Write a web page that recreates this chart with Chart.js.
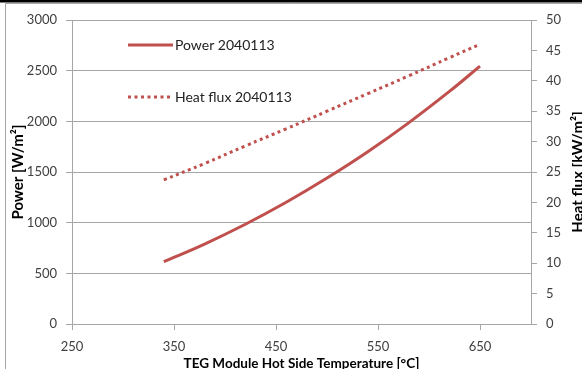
<!DOCTYPE html>
<html>
<head>
<meta charset="utf-8">
<script src="https://cdn.jsdelivr.net/npm/chart.js@4.4.1/dist/chart.umd.min.js"></script>
<style>
  html, body { margin: 0; padding: 0; background: #fff; }
  #wrap { width: 582px; height: 369px; position: relative; }
</style>
</head>
<body>
<div id="wrap"><canvas id="myChart" width="582" height="369"></canvas></div>
<script>
// values
var temps    = [340, 380, 420, 460, 500, 540, 580, 620, 650];
var power    = [615, 789, 984, 1201, 1440, 1700, 1985, 2295, 2545];
var heatFlux = [23.7, 26.4, 29.3, 32.1, 35.0, 37.9, 40.8, 43.8, 46.0];
var xTicks   = [250, 350, 450, 550, 650];
var seriesNames = ['Power 2040113', 'Heat flux 2040113'];

var red = '#c0504d';
var gridGrey = '#a6a6a6';
var textCol = '#404040';

function pts(xs, ys) {
    var out = [];
    for (var i = 0; i < xs.length; i++) out.push({x: xs[i], y: ys[i]});
    return out;
}

function plain(v) { return String(v); }

// page frame, legend inside the plot, right-hand axis title (reads bottom to top)
var extras = {
    id: 'extras',
    beforeDraw: function(chart) {
        var c = chart.ctx;
        c.save();
        c.fillStyle = '#fff';
        c.fillRect(0, 0, chart.width, chart.height);
        c.fillStyle = '#000';
        c.fillRect(0, 0, chart.width, 2.5);
        c.strokeStyle = gridGrey;
        c.lineWidth = 1;
        c.beginPath();
        c.moveTo(5.5, 2.5); c.lineTo(5.5, chart.height);
        c.moveTo(5.5, 3.5); c.lineTo(chart.width, 3.5);
        c.stroke();
        c.restore();
    },
    afterDraw: function(chart) {
        var c = chart.ctx, a = chart.chartArea;
        c.save();
        var rows = [a.top + 25, a.top + 77];
        chart.data.datasets.forEach(function(ds, i) {
            var y = rows[i];
            c.strokeStyle = ds.borderColor;
            c.lineWidth = ds.borderWidth;
            c.setLineDash(ds.borderDash || []);
            c.beginPath();
            c.moveTo(a.left + 56, y);
            c.lineTo(a.left + 101, y);
            c.stroke();
            c.setLineDash([]);
            c.fillStyle = '#222';
            c.font = '14px Lato';
            c.textBaseline = 'middle';
            c.fillText(ds.label, a.left + 103, y);
        });
        // right axis title
        c.translate(578, (a.top + a.bottom) / 2);
        c.rotate(-Math.PI / 2);
        c.font = 'bold 15px Lato';
        c.fillStyle = '#000';
        c.textAlign = 'center';
        c.textBaseline = 'middle';
        c.fillText('Heat flux [kW/m\u00b2]', 0, 0);
        c.restore();
    }
};

var ctx = document.getElementById('myChart');

var myChart = new Chart(ctx, {
    type: 'line',
    data: {
        datasets: [
        {
            label: seriesNames[0],
            data: pts(temps, power),
            yAxisID: 'y',
            borderColor: red,
            borderWidth: 3,
            pointRadius: 0,
            tension: 0.4,
            fill: false
        },
        {
            label: seriesNames[1],
            data: pts(temps, heatFlux),
            yAxisID: 'y2',
            borderColor: red,
            borderWidth: 3,
            borderDash: [3, 3.5],
            pointRadius: 0,
            tension: 0.4,
            fill: false
        }
        ]
    },
    plugins: [extras],
    options: {
        responsive: false,
        animation: false,
        events: [],
        layout: { padding: { top: 20, left: 0, right: 0, bottom: 0 } },
        plugins: { legend: { display: false }, tooltip: { enabled: false } },
        scales: {
            x: {
                type: 'linear',
                min: 250,
                max: 700,
                afterBuildTicks: function(scale) {
                    scale.ticks = xTicks.map(function(v) { return {value: v}; });
                },
                afterFit: function(scale) { scale.height = 45; },
                grid: { drawOnChartArea: false, drawTicks: true, tickLength: 6, color: gridGrey },
                border: { color: gridGrey },
                ticks: { color: textCol, font: { family: 'Lato', size: 13 }, padding: 9, maxRotation: 0, callback: plain },
                title: {
                    display: true,
                    text: 'TEG Module Hot Side Temperature [\u00b0C]',
                    color: '#000',
                    font: { family: 'Lato', size: 13.5, weight: 'bold' },
                    padding: { top: 0, bottom: -3 }
                }
            },
            y: {
                position: 'left',
                min: 0,
                max: 3000,
                ticks: { stepSize: 500, color: textCol, font: { family: 'Lato', size: 13 }, padding: 9, callback: plain },
                afterFit: function(scale) { scale.width = 72; },
                grid: { color: gridGrey, tickLength: 6 },
                border: { color: gridGrey },
                title: {
                    display: true,
                    text: 'Power [W/m\u00b2]',
                    color: '#000',
                    font: { family: 'Lato', size: 15, weight: 'bold' },
                    padding: { top: 9, bottom: 0 }
                }
            },
            y2: {
                position: 'right',
                min: 0,
                max: 50,
                ticks: { stepSize: 5, color: textCol, font: { family: 'Lato', size: 13 }, padding: 9, callback: plain },
                afterFit: function(scale) { scale.width = 51; },
                grid: { drawOnChartArea: false, color: gridGrey, tickLength: 6 },
                border: { color: gridGrey }
            }
        }
    }
});
</script>
</body>
</html>
